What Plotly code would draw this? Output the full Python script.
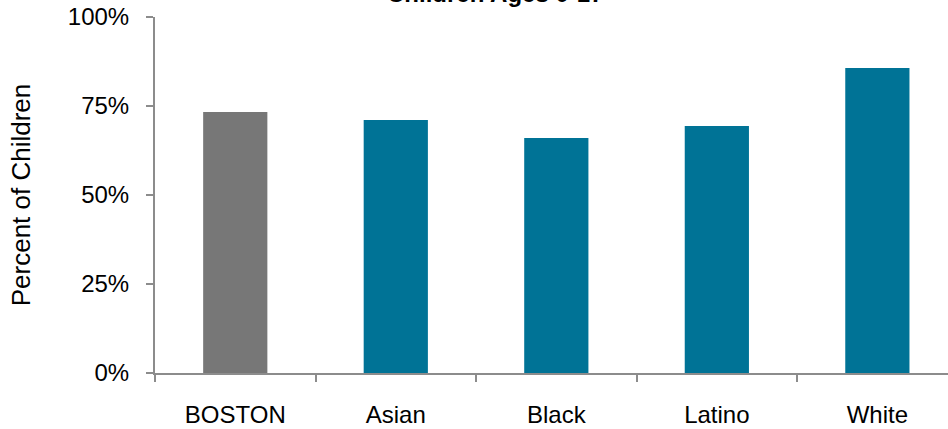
import plotly.graph_objects as go

categories = ["BOSTON", "Asian", "Black", "Latino", "White"]
values = [0.733, 0.711, 0.660, 0.694, 0.857]
bar_colors = ["#777777", "#007396", "#007396", "#007396", "#007396"]
y_ticks = [0, 0.25, 0.5, 0.75, 1.0]
y_tick_labels = ["0%", "25%", "50%", "75%", "100%"]

FONT = "Liberation Sans, Arial, sans-serif"
AXIS = "#8c8c8c"

fig = go.Figure(
    go.Bar(
        x=categories,
        y=values,
        marker=dict(color=bar_colors, line=dict(width=0)),
        width=0.4,
        hoverinfo="skip",
    )
)

fig.update_layout(
    width=948,
    height=429,
    margin=dict(l=155, r=0, t=17, b=56),
    paper_bgcolor="white",
    plot_bgcolor="white",
    showlegend=False,
    font=dict(family=FONT, color="black", size=24),
    annotations=[
        dict(
            text="<b>Children Ages 0-17</b>",
            xref="paper",
            yref="paper",
            x=(495 - 155) / (948 - 155),
            y=1 + (17 - 9) / 356,
            xanchor="center",
            yanchor="bottom",
            showarrow=False,
            font=dict(family=FONT, size=24, color="black"),
        )
    ],
)

fig.update_xaxes(
    type="category",
    range=[-0.5, 4.44],
    showline=True,
    linecolor=AXIS,
    linewidth=2,
    ticks="outside",
    tickson="boundaries",
    ticklen=7,
    tickwidth=1.5,
    tickcolor=AXIS,
    showgrid=False,
    zeroline=False,
    ticklabelstandoff=19,
    tickfont=dict(family=FONT, size=24, color="black"),
)

fig.update_yaxes(
    range=[0, 1.0],
    tickvals=y_ticks,
    ticktext=y_tick_labels,
    showline=True,
    linecolor=AXIS,
    linewidth=2,
    ticks="outside",
    ticklen=7,
    tickwidth=1.5,
    tickcolor=AXIS,
    showgrid=False,
    zeroline=False,
    ticklabelstandoff=12,
    tickfont=dict(family=FONT, size=24, color="black"),
    title=dict(text="Percent of Children", font=dict(family=FONT, size=26, color="black"), standoff=30),
)

fig.write_html(
    "out.html",
    config={"displayModeBar": False},
    post_script="document.body.style.margin='0px';",
)
